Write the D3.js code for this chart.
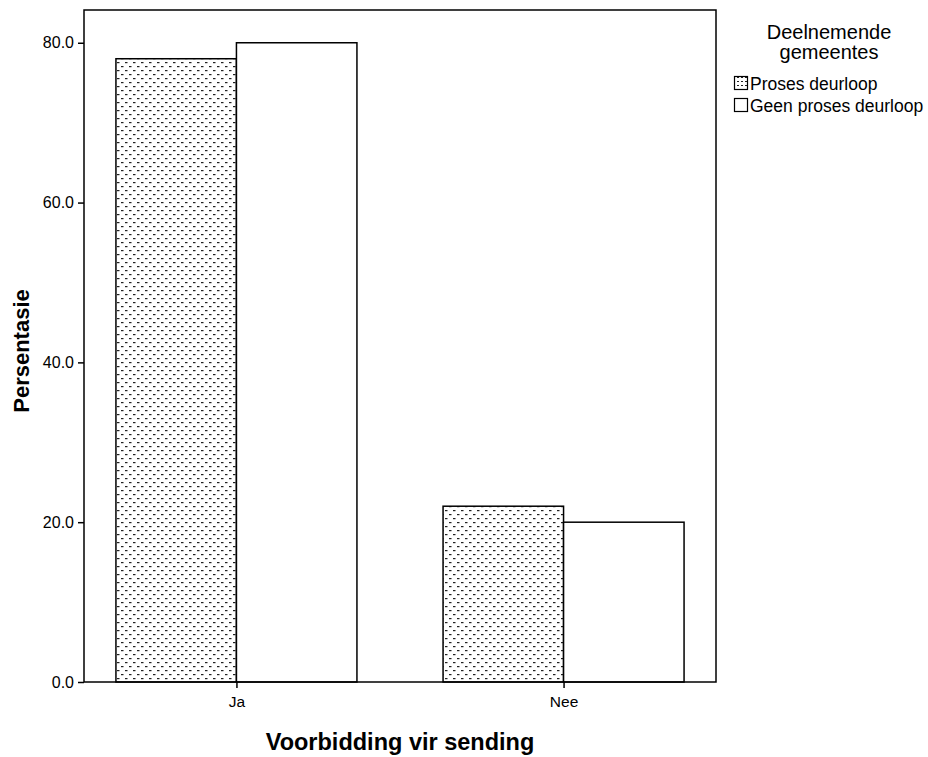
<!DOCTYPE html>
<html><head><meta charset="utf-8">
<script src="https://cdn.jsdelivr.net/npm/d3@7"></script>
<style>body{margin:0;background:#fff}svg{display:block;font-family:"Liberation Sans",Arial,sans-serif}</style>
</head><body><svg id="c" width="928" height="757"></svg>
<script>
const categories = ["Ja", "Nee"];
const seriesNames = ["Proses deurloop", "Geen proses deurloop"];
const prosesValues = [78.0, 22.0];
const geenValues = [80.0, 20.0];
const yTicks = [0, 20, 40, 60, 80];
const xTitle = "Voorbidding vir sending";
const yTitle = "Persentasie";
const legendTitle = ["Deelnemende", "gemeentes"];

const svg = d3.select("#c");
const L = 84, R = 716, T = 10, B = 682;

const defs = svg.append("defs");
const pat = defs.append("pattern").attr("id", "dots").attr("patternUnits", "userSpaceOnUse")
  .attr("width", 8).attr("height", 8);
pat.append("rect").attr("width", 8).attr("height", 8).attr("fill", "#fff");
pat.append("rect").attr("x", 1).attr("y", 2).attr("width", 2.5).attr("height", 1.2).attr("fill", "#222");
pat.append("rect").attr("x", 5).attr("y", 6).attr("width", 2.5).attr("height", 1.2).attr("fill", "#222");
const pat2 = defs.append("pattern").attr("id", "dotsL").attr("patternUnits", "userSpaceOnUse")
  .attr("width", 4).attr("height", 4);
pat2.append("rect").attr("width", 4).attr("height", 4).attr("fill", "#fff");
pat2.append("rect").attr("x", 1).attr("y", 1).attr("width", 2).attr("height", 1).attr("fill", "#222");

const y = d3.scaleLinear().domain([0, 84.1]).range([B, T]);
const x = d3.scalePoint().domain(categories).range([L, R]).padding(0.466);
const xs = d3.scaleBand().domain(seriesNames).range([-120.5, 120.5]);
const fills = ["url(#dots)", "#fff"];

const data = categories.map((c, i) => ({cat: c, vals: [prosesValues[i], geenValues[i]]}));

const g = svg.append("g");
data.forEach(d => {
  d.vals.forEach((v, j) => {
    g.append("rect")
      .attr("x", x(d.cat) + xs(seriesNames[j]))
      .attr("y", y(v))
      .attr("width", xs.bandwidth())
      .attr("height", y(0) - y(v))
      .attr("fill", fills[j])
      .attr("stroke", "#000").attr("stroke-width", 1.5);
  });
});

svg.append("rect").attr("x", L).attr("y", T).attr("width", R - L).attr("height", B - T)
  .attr("fill", "none").attr("stroke", "#000").attr("stroke-width", 1.5);

const ya = svg.append("g").attr("transform", `translate(${L},0)`)
  .call(d3.axisLeft(y).tickValues(yTicks).tickFormat(d3.format(".1f")).tickSize(6).tickPadding(4));
ya.select(".domain").remove();
ya.selectAll("line").attr("stroke", "#000").attr("stroke-width", 1.5);
ya.selectAll("text").attr("font-size", 16).attr("fill", "#000").attr("font-family", "Liberation Sans, Arial, sans-serif");

const xa = svg.append("g").attr("transform", `translate(0,${B})`)
  .call(d3.axisBottom(x).tickSize(6).tickPadding(8));
xa.select(".domain").remove();
xa.selectAll("line").attr("stroke", "#000").attr("stroke-width", 1.5);
xa.selectAll("text").attr("font-size", 15.5).attr("fill", "#000").attr("font-family", "Liberation Sans, Arial, sans-serif");

svg.append("text").attr("x", (L + R) / 2).attr("y", 750).attr("text-anchor", "middle")
  .attr("font-size", 23.5).attr("font-weight", "bold").text(xTitle);
svg.append("text").attr("transform", `translate(29,${351}) rotate(-90)`).attr("text-anchor", "middle")
  .attr("font-size", 22).attr("font-weight", "bold").text(yTitle);

legendTitle.forEach((t, i) => {
  svg.append("text").attr("x", 829).attr("y", 39 + i * 20).attr("text-anchor", "middle")
    .attr("font-size", 20).text(t);
});
const legFills = ["url(#dotsL)", "#fff"];
seriesNames.forEach((s, i) => {
  const yy = 76 + i * 22;
  svg.append("rect").attr("x", 734.5).attr("y", yy + 0.5).attr("width", 13).attr("height", 13)
    .attr("fill", legFills[i]).attr("stroke", "#000").attr("stroke-width", 1.2);
  svg.append("text").attr("x", 750).attr("y", yy + 14).attr("font-size", 17.5).text(s);
});
</script></body></html>
